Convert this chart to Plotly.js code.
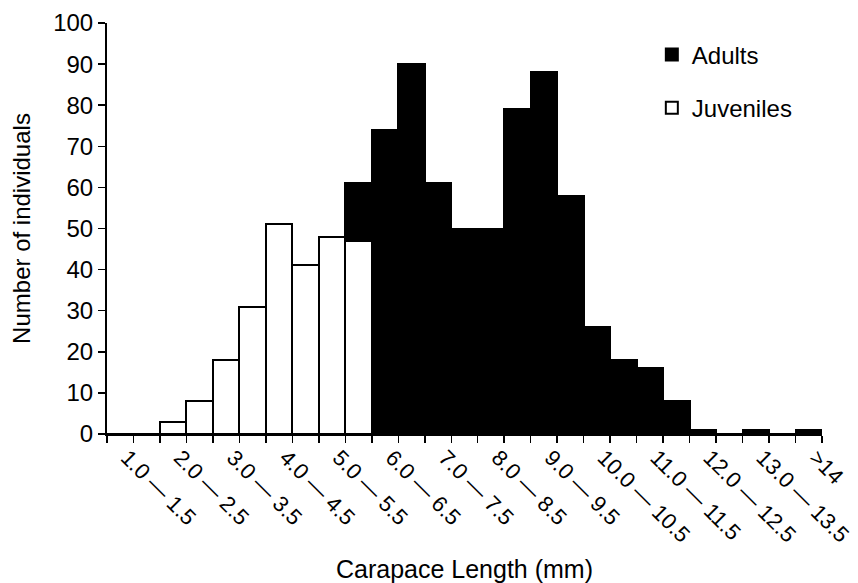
<!DOCTYPE html>
<html>
<head>
<meta charset="utf-8">
<script src="https://cdn.plot.ly/plotly-3.0.1.min.js"></script>
<style>html,body{margin:0;padding:0;background:#fff;}#chart{width:858px;height:583px;}</style>
</head>
<body>
<div id="chart"></div>
<script>
const categories = ["1.0—1.5","1.5—2.0","2.0—2.5","2.5—3.0","3.0—3.5","3.5—4.0","4.0—4.5","4.5—5.0","5.0—5.5","5.5—6.0","6.0—6.5","6.5—7.0","7.0—7.5","7.5—8.0","8.0—8.5","8.5—9.0","9.0—9.5","9.5—10.0","10.0—10.5","10.5—11.0","11.0—11.5","11.5—12.0","12.0—12.5","12.5—13.0","13.0—13.5","13.5—14.0",">14"];
const tickLabels = ["1.0 — 1.5","","2.0 — 2.5","","3.0 — 3.5","","4.0 — 4.5","","5.0 — 5.5","","6.0 — 6.5","","7.0 — 7.5","","8.0 — 8.5","","9.0 — 9.5","","10.0 — 10.5","","11.0 — 11.5","","12.0 — 12.5","","13.0 — 13.5","",">14"];
const juveniles = [0,0,3,8,18,31,51,41,48,47,0,0,0,0,0,0,0,0,0,0,0,0,0,0,0,0,0];
const adults    = [0,0,0,0,0,0,0,0,0,14,74,90,61,50,50,79,88,58,26,18,16,8,1,0,1,0,1];

const FONT = "Liberation Sans, Arial, sans-serif";

const traces = [
  {type:'bar', name:'Juveniles', x:categories, y:juveniles, legendgroup:'j', legendrank:2,
   marker:{color:'#ffffff', line:{color:'#000000', width:2}}},
  {type:'bar', name:'Adults', x:categories, y:adults, legendgroup:'a', legendrank:1,
   marker:{color:'#000000', line:{color:'#000000', width:2}}}
];

const layout = {
  width:858, height:583,
  margin:{l:107, r:36, t:23, b:149, pad:0},
  paper_bgcolor:'#fff', plot_bgcolor:'#fff',
  font:{family:FONT, size:22, color:'#000'},
  barmode:'stack', bargap:0,
  showlegend:true,
  legend:{x:0.762, y:0.977, xanchor:'left', yanchor:'top', traceorder:'grouped',
          tracegroupgap:19, font:{size:24, family:FONT, color:'#000'}, bgcolor:'rgba(0,0,0,0)'},
  xaxis:{type:'category', tickmode:'array', tickvals:categories, ticktext:tickLabels,
         tickson:'boundaries', ticks:'outside', ticklen:7, tickwidth:1.5, tickcolor:'#000',
         tickangle:45, ticklabelshift:7, tickfont:{size:22, family:FONT, color:'#000'},
         showline:true, linecolor:'#000', linewidth:2, showgrid:false, zeroline:false,
         range:[-0.5, 26.5], fixedrange:true,
         title:{text:'Carapace Length (mm)', font:{size:25, family:FONT, color:'#000'}, standoff:20}},
  yaxis:{range:[0,100], dtick:10, tick0:0, ticks:'outside', ticklen:7, tickwidth:1.5, tickcolor:'#000',
         tickfont:{size:24, family:FONT, color:'#000'},
         showline:true, linecolor:'#000', linewidth:2, showgrid:false, zeroline:false,
         title:{text:'Number of individuals', font:{size:24, family:FONT, color:'#000'}, standoff:16}}
};

Plotly.newPlot('chart', traces, layout, {displayModeBar:false, staticPlot:true});
</script>
</body>
</html>
